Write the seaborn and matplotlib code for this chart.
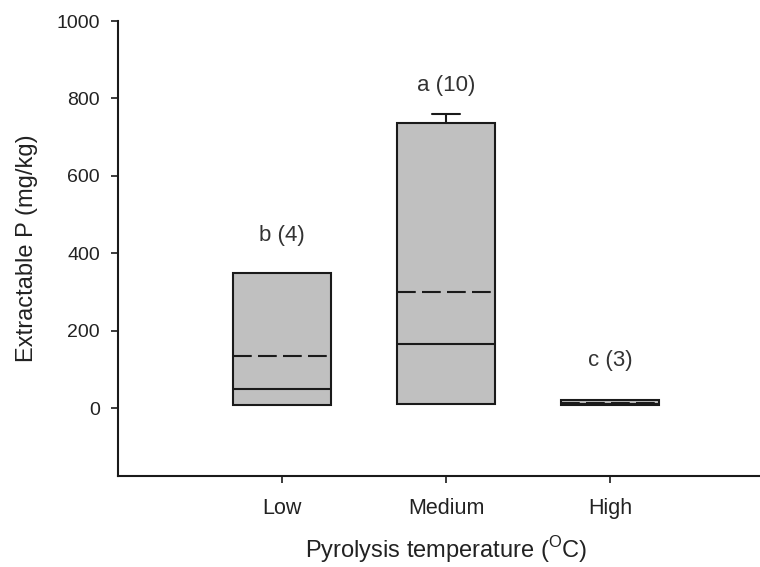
import matplotlib
matplotlib.use("Agg")
import matplotlib.pyplot as plt
import seaborn as sns

categories = ["Low", "Medium", "High"]
q1 = [8, 12, 8]
median = [50, 167, 12]
q3 = [350, 736, 20]
mean = [134, 299, 14]
whisker_low = [8, 12, 8]
whisker_high = [350, 760, 20]
show_caps = [False, True, False]
labels = ["b (4)", "a (10)", "c (3)"]
label_y = [447, 834, 124]

sns.set_style("ticks")
plt.rcParams["font.family"] = ["Liberation Sans", "DejaVu Sans"]
plt.rcParams["mathtext.fontset"] = "custom"
plt.rcParams["mathtext.rm"] = "Liberation Sans"

fig = plt.figure(figsize=(7.6, 5.67), dpi=100)
ax = fig.add_axes([118 / 760, 91 / 567, 656 / 760, 455 / 567])

stats = []
for i, c in enumerate(categories):
    stats.append(dict(label=c, q1=q1[i], med=median[i], q3=q3[i], mean=mean[i],
                      whislo=whisker_low[i], whishi=whisker_high[i], fliers=[]))

bp = ax.bxp(stats, positions=range(len(categories)), widths=0.6, patch_artist=True,
            showmeans=True, meanline=True, showcaps=True, showfliers=False,
            boxprops=dict(facecolor="#c0c0c0", edgecolor="#1a1a1a", linewidth=1.5),
            medianprops=dict(color="#1a1a1a", linewidth=1.5),
            meanprops=dict(color="#1a1a1a", linewidth=1.5, linestyle=(0, (9, 3))),
            whiskerprops=dict(color="#1a1a1a", linewidth=1.5),
            capprops=dict(color="#1a1a1a", linewidth=1.5), capwidths=0.165)
for i, show in enumerate(show_caps):
    bp["caps"][2 * i].set_visible(False)
    if not show:
        bp["caps"][2 * i + 1].set_visible(False)

for i, t in enumerate(labels):
    ax.text(i, label_y[i], t, ha="center", va="center", fontsize=16, color="#333333")

ax.set_xlim(-1, 3)
ax.set_ylim(-175, 1000)
ax.set_yticks([0, 200, 400, 600, 800, 1000])
ax.set_xticks(range(len(categories)))
ax.set_xticklabels(categories)
ax.tick_params(axis="both", labelsize=14, colors="#1a1a1a", labelcolor="#222222",
               length=5, width=1.2, direction="out")
ax.tick_params(axis="y", pad=8)
ax.tick_params(axis="x", labelsize=15.5, pad=11)
sns.despine(ax=ax)
for s in ["left", "bottom"]:
    ax.spines[s].set_linewidth(1.5)
    ax.spines[s].set_color("#1a1a1a")
ax.set_ylabel("Extractable P (mg/kg)", fontsize=17, color="#222222", labelpad=13)
ax.set_xlabel("Pyrolysis temperature ($^{\\mathrm{O}}$C)", fontsize=17, color="#222222", labelpad=11)

fig.savefig("out.png", dpi=100)
